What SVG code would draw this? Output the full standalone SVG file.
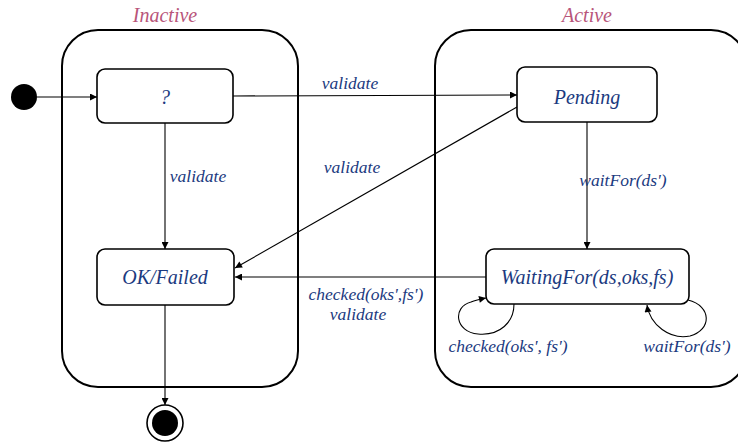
<svg xmlns="http://www.w3.org/2000/svg" width="738" height="447" viewBox="0 0 738 447">
<defs>
<marker id="ah" viewBox="0 0 10 10" refX="10" refY="5" markerWidth="9" markerHeight="7" markerUnits="userSpaceOnUse" orient="auto">
<path d="M0,0 L10,5 L0,10 z" fill="#000"/>
</marker>
</defs>
<style>
.cont{fill:#fff;stroke:#000;stroke-width:2}
.st{fill:#fff;stroke:#000;stroke-width:1.6}
.ttl{font-family:'Liberation Serif',serif;font-style:italic;font-size:20px;fill:#b8557a;text-anchor:middle}
.nm{font-family:'Liberation Serif',serif;font-style:italic;font-size:20px;fill:#1b3a80;text-anchor:middle}
.lb{font-family:'Liberation Serif',serif;font-style:italic;font-size:17.5px;fill:#1b3a80;text-anchor:middle}
.cn{fill:none;stroke:#000;stroke-width:1.1;marker-end:url(#ah)}
</style>
<rect width="738" height="447" fill="#fff"/>
<g id="Inactive">
<rect class="cont" x="62" y="30" width="236" height="357" rx="36"/>
<text class="ttl" x="165" y="22">Inactive</text>
</g>
<g id="Active">
<rect class="cont" x="435" y="30" width="312" height="357" rx="36"/>
<text class="ttl" x="587" y="22">Active</text>
</g>
<g id="connectors">
<line class="cn" x1="37" y1="97" x2="97" y2="97"/>
<line class="cn" x1="233" y1="96" x2="517" y2="95"/>
<line class="cn" x1="165" y1="123" x2="165" y2="249"/>
<line class="cn" x1="517" y1="107" x2="235" y2="268"/>
<line class="cn" x1="486" y1="277" x2="235" y2="277"/>
<line class="cn" x1="587" y1="122" x2="587" y2="249"/>
<line class="cn" x1="165" y1="305" x2="165" y2="405"/>
<path class="cn" d="M514,304 C514,322 500,336 478,334 C455,332 452,307 471,302 C476,300 481,299 486,298"/>
<path class="cn" d="M688,300 C712,306 712,330 690,336 C670,340 650,325 647,305"/>
<text class="lb" x="350" y="89">validate</text>
<text class="lb" x="198" y="182">validate</text>
<text class="lb" x="352" y="173">validate</text>
<text class="lb" x="623" y="186">waitFor(ds')</text>
<text class="lb" x="366" y="300">checked(oks',fs')</text>
<text class="lb" x="358" y="320">validate</text>
<text class="lb" x="508" y="352">checked(oks', fs')</text>
<text class="lb" x="687" y="352">waitFor(ds')</text>
</g>
<g id="init"><circle cx="24" cy="97" r="13" fill="#000"/></g>
<g id="final">
<circle cx="165" cy="423" r="18" fill="#fff" stroke="#000" stroke-width="1.6"/>
<circle cx="165" cy="423" r="13" fill="#000"/>
</g>
<g id="q">
<rect class="st" x="97" y="69" width="136" height="54" rx="8"/>
<text class="nm" x="165" y="104">?</text>
</g>
<g id="Pending">
<rect class="st" x="517" y="67" width="140" height="55" rx="8"/>
<text class="nm" x="587" y="104">Pending</text>
</g>
<g id="OKFailed">
<rect class="st" x="97" y="249" width="137" height="56" rx="8"/>
<text class="nm" x="165" y="284">OK/Failed</text>
</g>
<g id="WaitingFor">
<rect class="st" x="486" y="249" width="203" height="55" rx="8"/>
<text class="nm" x="587" y="284">WaitingFor(ds,oks,fs)</text>
</g>
</svg>
